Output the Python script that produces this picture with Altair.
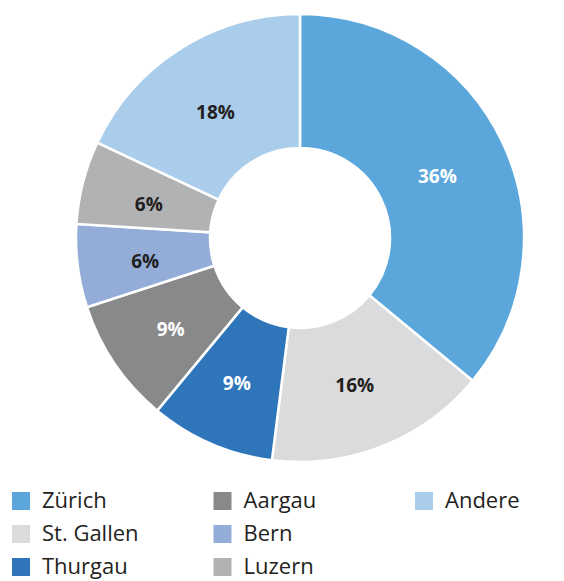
import altair as alt
import pandas as pd

regions = ["Zürich", "St. Gallen", "Thurgau", "Aargau", "Bern", "Luzern", "Andere"]
shares = [36, 16, 9, 9, 6, 6, 18]
labels = ["36%", "16%", "9%", "9%", "6%", "6%", "18%"]
colors = ["#5BA7DC", "#DADBDC", "#2E75B9", "#88898B", "#94ADD8", "#B1B2B4", "#AACDEC"]
label_colors = ["#FFFFFF", "#231F20", "#FFFFFF", "#FFFFFF", "#231F20", "#231F20", "#231F20"]

df = pd.DataFrame({
    "region": regions,
    "share": shares,
    "label": labels,
    "lc": label_colors,
    "idx": list(range(len(regions))),
})
df["col"] = df["idx"] // 3
df["row"] = df["idx"] % 3

FONT = "Open Sans"
CX, CY = 300, 238

color_scale = alt.Scale(domain=regions, range=colors)

base = alt.Chart(df).encode(
    theta=alt.Theta("share:Q", stack=True),
    order=alt.Order("idx:Q"),
)

arcs = base.mark_arc(innerRadius=90, outerRadius=224, stroke="white", strokeWidth=2.5).encode(
    color=alt.Color("region:N", scale=color_scale, legend=None),
    x=alt.value(CX),
    y=alt.value(CY),
)

pct = base.mark_text(radius=154, dy=5, dx=-2, fontSize=19, fontWeight="bold", font=FONT).encode(
    text=alt.Text("label:N"),
    color=alt.Color("lc:N", scale=None),
    x=alt.value(CX),
    y=alt.value(CY),
)

xs = alt.Scale(domain=[0, 2], range=[21, 424])
ys = alt.Scale(domain=[0, 2], range=[501, 567])

leg_sq = alt.Chart(df).mark_square(size=324, opacity=1).encode(
    x=alt.X("col:Q", scale=xs, axis=None),
    y=alt.Y("row:Q", scale=ys, axis=None),
    color=alt.Color("region:N", scale=color_scale, legend=None),
)

leg_tx = alt.Chart(df).mark_text(align="left", baseline="middle", dx=21, fontSize=22, font=FONT, color="#231F20").encode(
    x=alt.X("col:Q", scale=xs, axis=None),
    y=alt.Y("row:Q", scale=ys, axis=None),
    text="region:N",
)

chart = alt.layer(arcs, pct, leg_sq, leg_tx).properties(
    width=564, height=581, autosize=alt.AutoSizeParams(type="none"), padding=0
).configure_view(stroke=None).resolve_scale(color="independent")

chart.save("out.html", embed_options={"renderer": "svg", "actions": False})
